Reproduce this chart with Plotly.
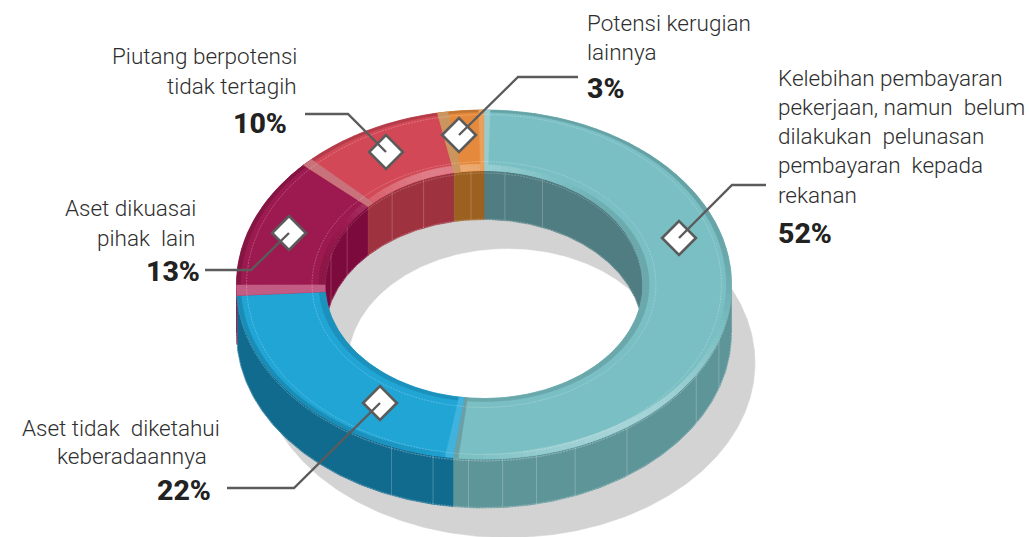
import numpy as np
import plotly.graph_objects as go

# ---- data ----
shares = [52, 22, 13, 10, 3]
share_labels = ["52%", "22%", "13%", "10%", "3%"]
names = [
    ["Kelebihan pembayaran", "pekerjaan, namun\u00a0 belum", "dilakukan\u00a0 pelunasan", "pembayaran\u00a0 kepada", "rekanan"],
    ["Aset tidak\u00a0 diketahui", "keberadaannya"],
    ["Aset dikuasai", "pihak\u00a0 lain"],
    ["Piutang berpotensi", "tidak tertagih"],
    ["Potensi kerugian", "lainnya"],
]

# ---- styles ----
top_colors = ["#79bfc3", "#20a5d5", "#9c1a4f", "#d24856", "#e58a3c"]
outer_wall_colors = ["#5e9599", "#116b8f", "#7d0a3c", "#9e333f", "#9c6021"]
inner_wall_colors = ["#507d82", "#116b8f", "#7d0a3c", "#9e333f", "#9c6021"]
strip_colors = ["#98cccf", "#3fb2de", "#c25c85", "#c9727c", "#cb9560"]
strip_widths = [1.4, 1.8, 3.4, 2.6, 2.4]
end_strip_colors = ["#6a9fa4", None, None, None, "#e9a05c"]
SHADOW = "#d3d3d3"
INK = "#2e2e2e"
LEADER = "#5b5b5b"

CX, CY, RX, RY = 484.0, 284.5, 247.5, 174.5
IRX, IRY = 159.0, 114.0
DEPTH = 49.0
SDX, SDY = 23.5, 78.5

# decorative seams (percent round the ring)
outer_seams = [30.1, 33.6, 40.2, 44.0, 46.6, 48.8, 51.0, 53.3, 56.1]
inner_seams = [2.1, 6.0, 98.7, 93.8, 90.2, 83.5, 79.4]

# callout layout in page pixels: diamond, elbow, end
callouts = [
    ((679, 238), (732, 185), (766, 185)),
    ((380, 403), (294, 488), (227, 488)),
    ((289, 233), (251, 270), (205, 270)),
    ((386, 152), (348, 114), (305, 114)),
    ((459, 135), (518, 77), (578, 77)),
]
label_blocks = [
    dict(x=779, anchor="left", ys=[78, 107, 136, 165, 195], px=779, py=233),
    dict(xs=[220, 207], anchor="right", ys=[428, 456], px=211, py=490),
    dict(x=196, anchor="right", ys=[208, 238], px=200, py=271),
    dict(x=297, anchor="right", ys=[56, 86], px=287, py=123),
    dict(x=588, anchor="left", ys=[23, 52], px=588, py=88),
]


# ---- geometry helpers ----
def arc(rx, ry, a0, a1, dx=0.0, dy=0.0):
    n = max(3, int(abs(a1 - a0) / 0.75) + 2)
    t = np.radians(np.linspace(a0, a1, n))
    return CX + dx + rx * np.sin(t), CY + dy - ry * np.cos(t)


def band(rx0, ry0, rx1, ry1, a0, a1, dy0=0.0, dy1=0.0):
    x0, y0 = arc(rx0, ry0, a0, a1, dy=dy0)
    x1, y1 = arc(rx1, ry1, a1, a0, dy=dy1)
    return np.r_[x0, x1, x0[0]], np.r_[y0, y1, y0[0]]


def hex2rgb(c):
    return np.array([int(c[i:i + 2], 16) for i in (1, 3, 5)], float)


def shade(c, v):
    rgb = hex2rgb(c)
    rgb = rgb + (255 - rgb) * v if v >= 0 else rgb * (1 + v)
    return "rgb(%d,%d,%d)" % tuple(np.clip(rgb, 0, 255))


def circ_gauss(a, centre, width):
    d = (a - centre + 180) % 360 - 180
    return np.exp(-(d / width) ** 2)


def outer_shade(a):
    g = circ_gauss(a, 145, 38)
    return 0.34 * g - 0.15 * (1 - g)


def inner_shade(a):
    g = circ_gauss(a, 345, 40)
    return 0.30 * g - 0.12 * (1 - g)


fig = go.Figure()


def poly(x, y, color):
    fig.add_trace(go.Scatter(x=x, y=y, mode="lines", fill="toself", fillcolor=color,
                             line=dict(color=color, width=0.6), hoverinfo="skip", showlegend=False))


def stroke(x, y, color, width, dash="solid"):
    fig.add_trace(go.Scatter(x=x, y=y, mode="lines", line=dict(color=color, width=width, dash=dash),
                             hoverinfo="skip", showlegend=False))


edges = np.r_[0, np.cumsum(shares)] / sum(shares) * 360.0
spans = list(zip(edges[:-1], edges[1:]))

# shadow on the ground
poly(*arc(RX, RY, 0, 360, SDX, SDY), SHADOW)
poly(*arc(IRX, IRY, 0, 360, SDX, SDY), "#ffffff")

# inner wall (back half only)
for (a0, a1), c in zip(spans, inner_wall_colors):
    for lo, hi in ((a0, min(a1, 90)), (max(a0, 270), a1)):
        if hi > lo:
            poly(*band(IRX, IRY, IRX, IRY, lo, hi, 0, DEPTH), c)
for pct in inner_seams:
    a = pct * 3.6
    x = CX + IRX * np.sin(np.radians(a))
    y = CY - IRY * np.cos(np.radians(a))
    stroke([x, x], [y, y + DEPTH], "rgba(255,255,255,0.28)", 0.7)
ax, ay = arc(IRX, IRY, -90, 90, dy=DEPTH - 0.5)
stroke(ax, ay, "rgba(255,255,255,0.35)", 0.6, "2px,1px")
ax, ay = arc(IRX, IRY, -90, 90, dy=2.5)
stroke(ax, ay, "rgba(255,255,255,0.35)", 0.6, "2px,1px")

# outer wall (front half only)
for (a0, a1), c in zip(spans, outer_wall_colors):
    lo, hi = max(a0, 90), min(a1, 270)
    if hi > lo:
        poly(*band(RX, RY, RX, RY, lo, hi, 0, DEPTH), c)
for pct in outer_seams:
    a = pct * 3.6
    x = CX + RX * np.sin(np.radians(a))
    y = CY - RY * np.cos(np.radians(a))
    stroke([x, x], [y, y + DEPTH], "rgba(255,255,255,0.32)", 0.7)
ax, ay = arc(RX, RY, 90, 270, dy=DEPTH - 0.5)
stroke(ax, ay, "rgba(255,255,255,0.40)", 0.6, "2px,1px")
ax, ay = arc(RX, RY, 90, 270, dy=2.0)
stroke(ax, ay, "rgba(255,255,255,0.55)", 0.6, "2px,1px")

# top face
for (a0, a1), c in zip(spans, top_colors):
    poly(*band(RX, RY, IRX, IRY, a0, a1), c)


def rim(a0, a1, rx0, ry0, rx1f, ry1f, color):
    """Ribbon along an arc whose far edge radius varies with the angle."""
    t = np.linspace(a0, a1, max(3, int((a1 - a0) / 0.75) + 2))
    r = np.radians(t)
    xo, yo = CX + rx0 * np.sin(r), CY - ry0 * np.cos(r)
    xi, yi = CX + rx1f(t) * np.sin(r), CY - ry1f(t) * np.cos(r)
    poly(np.r_[xo, xi[::-1], xo[0]], np.r_[yo, yi[::-1], yo[0]], color)


# rim bevels follow the light round the ring
STEP = 3.0
o_x = lambda t: RX - 4.0 - 1.0 * circ_gauss(t, 90, 40)
o_y = lambda t: RY - 2.0 - 4.5 * circ_gauss(t, 150, 50)
i_x = lambda t: IRX + 6.0
i_y = lambda t: IRY + 3.0 + 4.0 * circ_gauss(t, 340, 35)
for (a0, a1), c in zip(spans, top_colors):
    for s in np.arange(a0, a1 - 1e-6, STEP):
        e = min(s + STEP, a1)
        m = (s + e) / 2
        rim(s, e, RX, RY, o_x, o_y, shade(c, outer_shade(m)))
        rim(s, e, IRX, IRY, i_x, i_y, shade(c, inner_shade(m)))

# chamfer strips where slices meet
for (a0, a1), c, w, e in zip(spans, strip_colors, strip_widths, end_strip_colors):
    poly(*band(RX, RY, IRX, IRY, a0, a0 + w), c)
    if e:
        poly(*band(RX, RY, IRX, IRY, a1 - 1.2, a1), e)

# fine dashed lines on the top face
ax, ay = arc(RX - 10, RY - 4.5, 0, 360)
stroke(ax, ay, "rgba(255,255,255,0.40)", 0.6, "2px,1px")
ax, ay = arc(IRX + 13, IRY + 9, 0, 360)
stroke(ax, ay, "rgba(255,255,255,0.40)", 0.6, "2px,1px")

# callouts
for (d, el, end) in callouts:
    fig.add_trace(go.Scatter(x=[d[0]], y=[d[1]], mode="markers",
                             marker=dict(symbol="diamond", size=26, color="white",
                                         line=dict(color=LEADER, width=2.6)),
                             hoverinfo="skip", showlegend=False))
    stroke([d[0], el[0], end[0]], [d[1], el[1], end[1]], LEADER, 2.4)

# texts
PAD = {"left": -3, "right": 2}
anns = []
for lines, pct, b in zip(names, share_labels, label_blocks):
    for i, (ln, y) in enumerate(zip(lines, b["ys"])):
        x = b["xs"][i] if "xs" in b else b["x"]
        anns.append(dict(x=x, y=y, text=ln, xref="x", yref="y", xanchor=b["anchor"], yanchor="middle",
                         showarrow=False, xshift=PAD[b["anchor"]],
                         font=dict(family="Roboto", size=22.5, color=INK, weight=300)))
    anns.append(dict(x=b["px"], y=b["py"], text=pct, xref="x", yref="y", xanchor=b["anchor"], yanchor="middle",
                     showarrow=False, xshift=PAD[b["anchor"]],
                     font=dict(family="Roboto", size=28.5, color="#222222", weight=800)))

fig.update_layout(
    width=1029, height=537, autosize=False,
    margin=dict(l=0, r=0, t=0, b=0),
    paper_bgcolor="white", plot_bgcolor="white", showlegend=False,
    xaxis=dict(range=[0, 1029], visible=False, fixedrange=True),
    yaxis=dict(range=[537, 0], visible=False, fixedrange=True),
    annotations=anns,
)
fig.write_html("out.html", config={"displayModeBar": False},
               post_script="document.body.style.margin='0';document.body.style.overflow='hidden';")
